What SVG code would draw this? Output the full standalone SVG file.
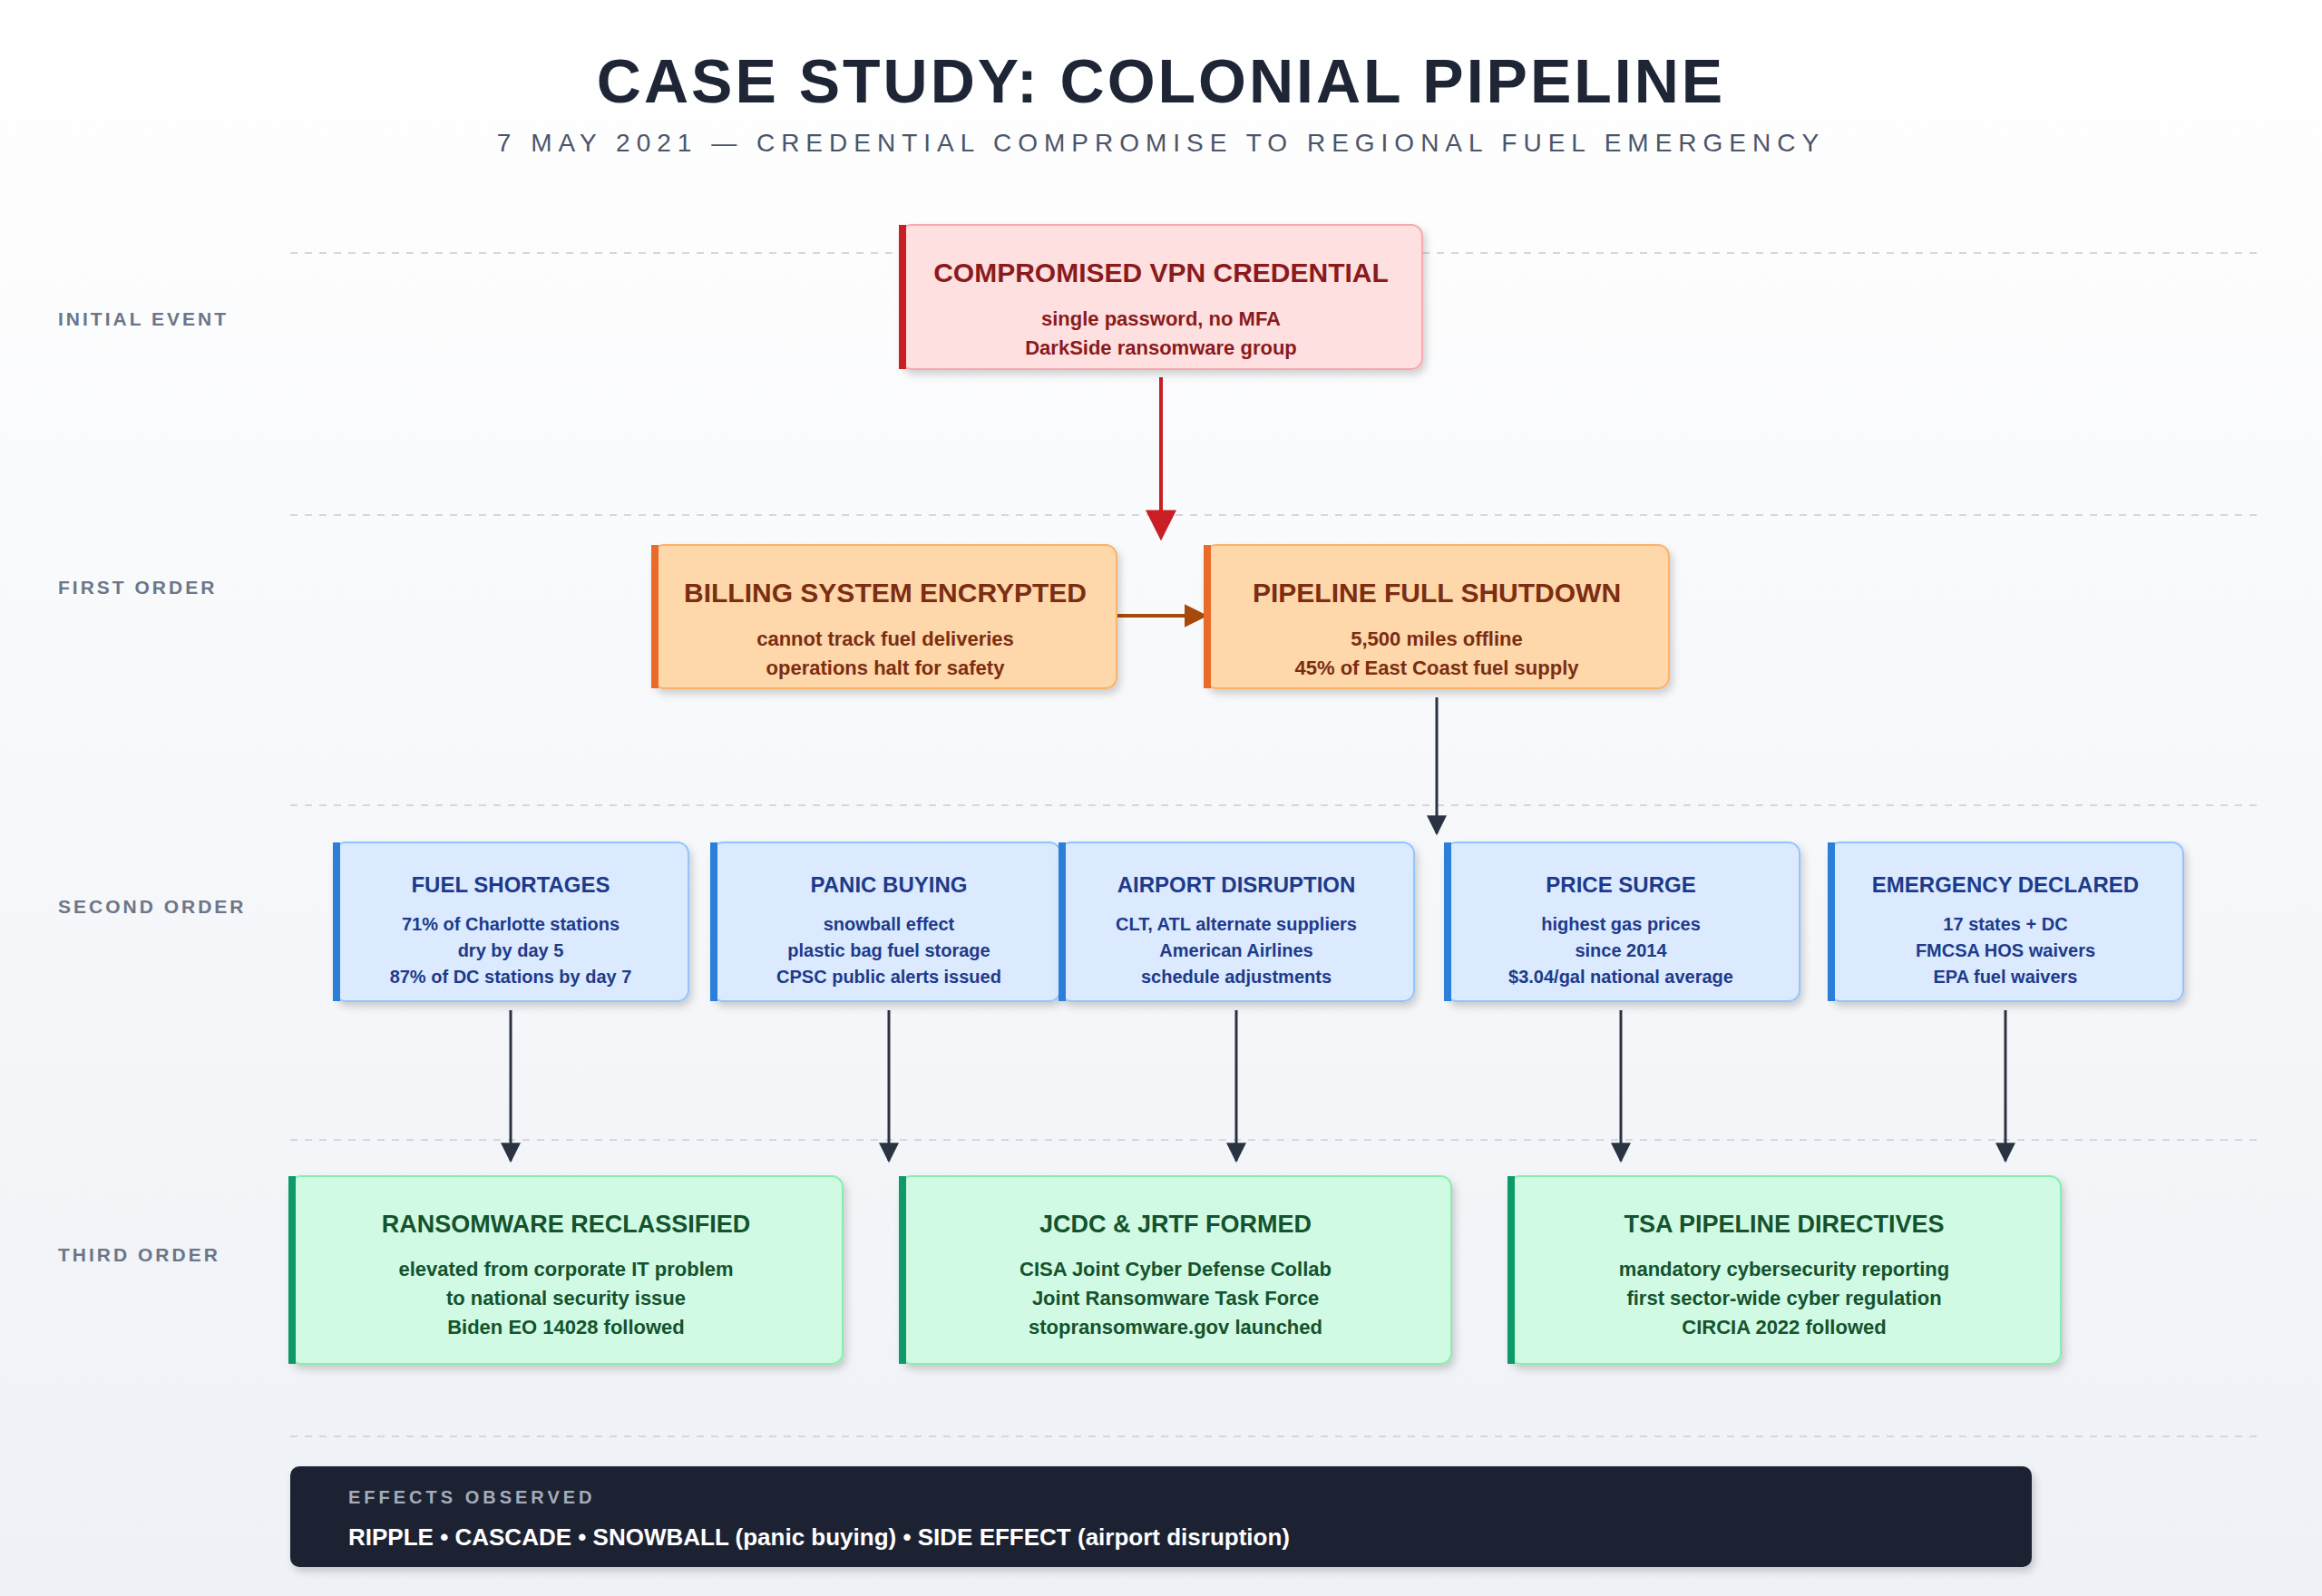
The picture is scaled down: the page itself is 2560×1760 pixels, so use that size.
<svg xmlns="http://www.w3.org/2000/svg" width="2560" height="1760" viewBox="0 0 2560 1760">
<defs>
<linearGradient id="bg" x1="0" y1="0" x2="0" y2="1"><stop offset="0" stop-color="#ffffff"/><stop offset="1" stop-color="#eef1f6"/></linearGradient>
<filter id="sh" x="-10%" y="-10%" width="120%" height="130%"><feDropShadow dx="3" dy="5" stdDeviation="4" flood-color="#000" flood-opacity="0.18"/></filter>
<marker id="mr" markerWidth="10" markerHeight="10" refX="9" refY="5" orient="auto" markerUnits="userSpaceOnUse" viewBox="0 0 10 10"><path d="M0,0 L10,5 L0,10 z" fill="#c81e24"/></marker>
<marker id="mo" viewBox="0 0 10 10" refX="9" refY="5" markerWidth="26" markerHeight="26" orient="auto" markerUnits="userSpaceOnUse"><path d="M0,0 L10,5 L0,10 z" fill="#a54a0a"/></marker>
<marker id="md" viewBox="0 0 10 10" refX="9" refY="5" markerWidth="22" markerHeight="22" orient="auto" markerUnits="userSpaceOnUse"><path d="M0,0 L10,5 L0,10 z" fill="#2a3342"/></marker>
<marker id="mr2" viewBox="0 0 10 10" refX="9" refY="5" markerWidth="34" markerHeight="34" orient="auto" markerUnits="userSpaceOnUse"><path d="M0,0 L10,5 L0,10 z" fill="#c81e24"/></marker>
</defs>
<style>
text{font-family:"Liberation Sans",Arial,sans-serif;text-anchor:middle;font-weight:bold}
.lane{fill:#6b7688;font-size:21px;letter-spacing:3px;text-anchor:start}
.dash{stroke:#d3d8e0;stroke-width:2;stroke-dasharray:8 8}
.r rect.b{fill:#fee0e1;stroke:#f8a9ad;stroke-width:2}
.r text{fill:#8b1a1c}
.o rect.b{fill:#fed7aa;stroke:#fbb26b;stroke-width:2}
.o text{fill:#7c2d12}
.bl rect.b{fill:#dbeafe;stroke:#93c5fd;stroke-width:2}
.bl text{fill:#1e3a8a}
.g rect.b{fill:#d1fae5;stroke:#86efac;stroke-width:2}
.g text{fill:#14532d}
.t1{font-size:30px}.s1{font-size:22px}.t2{font-size:24px}.s2{font-size:20px}
</style>
<rect width="2560" height="1760" fill="url(#bg)"/>
<text x="1280" y="113" style="font-size:68px;fill:#1e2535;letter-spacing:3px">CASE STUDY: COLONIAL PIPELINE</text>
<text x="1280" y="167" style="font-size:28px;fill:#4b5568;font-weight:normal;letter-spacing:7px">7 MAY 2021 — CREDENTIAL COMPROMISE TO REGIONAL FUEL EMERGENCY</text>
<g>
<line class="dash" x1="320" y1="279" x2="2495" y2="279"/>
<line class="dash" x1="320" y1="568" x2="2495" y2="568"/>
<line class="dash" x1="320" y1="888" x2="2495" y2="888"/>
<line class="dash" x1="320" y1="1257" x2="2495" y2="1257"/>
<line class="dash" x1="320" y1="1584" x2="2495" y2="1584"/>
</g>
<text class="lane" x="64" y="359">INITIAL EVENT</text>
<text class="lane" x="64" y="655">FIRST ORDER</text>
<text class="lane" x="64" y="1007">SECOND ORDER</text>
<text class="lane" x="64" y="1391">THIRD ORDER</text>

<g id="connectors" fill="none">
<line x1="1280" y1="416" x2="1280" y2="593" stroke="#c81e24" stroke-width="4" marker-end="url(#mr2)"/>
<line x1="1231" y1="679" x2="1329" y2="679" stroke="#a54a0a" stroke-width="4" marker-end="url(#mo)"/>
<line x1="1584" y1="769" x2="1584" y2="919" stroke="#2a3342" stroke-width="3" marker-end="url(#md)"/>
<line x1="563" y1="1114" x2="563" y2="1280" stroke="#2a3342" stroke-width="3" marker-end="url(#md)"/>
<line x1="980" y1="1114" x2="980" y2="1280" stroke="#2a3342" stroke-width="3" marker-end="url(#md)"/>
<line x1="1363" y1="1114" x2="1363" y2="1280" stroke="#2a3342" stroke-width="3" marker-end="url(#md)"/>
<line x1="1787" y1="1114" x2="1787" y2="1280" stroke="#2a3342" stroke-width="3" marker-end="url(#md)"/>
<line x1="2211" y1="1114" x2="2211" y2="1280" stroke="#2a3342" stroke-width="3" marker-end="url(#md)"/>
</g>

<g id="n-vpn" class="r"><rect class="b" x="993" y="248" width="575" height="159" rx="12" filter="url(#sh)"/><rect x="991" y="248" width="8" height="159" fill="#c81e24"/>
<text class="t1" x="1280" y="311">COMPROMISED VPN CREDENTIAL</text><text class="s1" x="1280" y="359">single password, no MFA</text><text class="s1" x="1280" y="391">DarkSide ransomware group</text></g>

<g id="n-billing" class="o"><rect class="b" x="720" y="601" width="511" height="158" rx="12" filter="url(#sh)"/><rect x="718" y="601" width="8" height="158" fill="#ea6a2a"/>
<text class="t1" x="976" y="664">BILLING SYSTEM ENCRYPTED</text><text class="s1" x="976" y="712">cannot track fuel deliveries</text><text class="s1" x="976" y="744">operations halt for safety</text></g>
<g id="n-pipeline" class="o"><rect class="b" x="1329" y="601" width="511" height="158" rx="12" filter="url(#sh)"/><rect x="1327" y="601" width="8" height="158" fill="#ea6a2a"/>
<text class="t1" x="1584" y="664">PIPELINE FULL SHUTDOWN</text><text class="s1" x="1584" y="712">5,500 miles offline</text><text class="s1" x="1584" y="744">45% of East Coast fuel supply</text></g>

<g id="n-fuel" class="bl"><rect class="b" x="369" y="929" width="390" height="175" rx="12" filter="url(#sh)"/><rect x="367" y="929" width="8" height="175" fill="#2b7fd9"/>
<text class="t2" x="563" y="984">FUEL SHORTAGES</text><text class="s2" x="563" y="1026">71% of Charlotte stations</text><text class="s2" x="563" y="1055">dry by day 5</text><text class="s2" x="563" y="1084">87% of DC stations by day 7</text></g>
<g id="n-panic" class="bl"><rect class="b" x="785" y="929" width="384" height="175" rx="12" filter="url(#sh)"/><rect x="783" y="929" width="8" height="175" fill="#2b7fd9"/>
<text class="t2" x="980" y="984">PANIC BUYING</text><text class="s2" x="980" y="1026">snowball effect</text><text class="s2" x="980" y="1055">plastic bag fuel storage</text><text class="s2" x="980" y="1084">CPSC public alerts issued</text></g>
<g id="n-airport" class="bl"><rect class="b" x="1169" y="929" width="390" height="175" rx="12" filter="url(#sh)"/><rect x="1167" y="929" width="8" height="175" fill="#2b7fd9"/>
<text class="t2" x="1363" y="984">AIRPORT DISRUPTION</text><text class="s2" x="1363" y="1026">CLT, ATL alternate suppliers</text><text class="s2" x="1363" y="1055">American Airlines</text><text class="s2" x="1363" y="1084">schedule adjustments</text></g>
<g id="n-price" class="bl"><rect class="b" x="1594" y="929" width="390" height="175" rx="12" filter="url(#sh)"/><rect x="1592" y="929" width="8" height="175" fill="#2b7fd9"/>
<text class="t2" x="1787" y="984">PRICE SURGE</text><text class="s2" x="1787" y="1026">highest gas prices</text><text class="s2" x="1787" y="1055">since 2014</text><text class="s2" x="1787" y="1084">$3.04/gal national average</text></g>
<g id="n-emergency" class="bl"><rect class="b" x="2017" y="929" width="390" height="175" rx="12" filter="url(#sh)"/><rect x="2015" y="929" width="8" height="175" fill="#2b7fd9"/>
<text class="t2" x="2211" y="984">EMERGENCY DECLARED</text><text class="s2" x="2211" y="1026">17 states + DC</text><text class="s2" x="2211" y="1055">FMCSA HOS waivers</text><text class="s2" x="2211" y="1084">EPA fuel waivers</text></g>

<g id="n-ransom" class="g"><rect class="b" x="320" y="1297" width="609" height="207" rx="12" filter="url(#sh)"/><rect x="318" y="1297" width="8" height="207" fill="#0d9a68"/>
<text class="t2" x="624" y="1359" style="font-size:27px">RANSOMWARE RECLASSIFIED</text><text class="s1" x="624" y="1407">elevated from corporate IT problem</text><text class="s1" x="624" y="1439">to national security issue</text><text class="s1" x="624" y="1471">Biden EO 14028 followed</text></g>
<g id="n-jcdc" class="g"><rect class="b" x="993" y="1297" width="607" height="207" rx="12" filter="url(#sh)"/><rect x="991" y="1297" width="8" height="207" fill="#0d9a68"/>
<text class="t2" x="1296" y="1359" style="font-size:27px">JCDC &amp; JRTF FORMED</text><text class="s1" x="1296" y="1407">CISA Joint Cyber Defense Collab</text><text class="s1" x="1296" y="1439">Joint Ransomware Task Force</text><text class="s1" x="1296" y="1471">stopransomware.gov launched</text></g>
<g id="n-tsa" class="g"><rect class="b" x="1664" y="1297" width="608" height="207" rx="12" filter="url(#sh)"/><rect x="1662" y="1297" width="8" height="207" fill="#0d9a68"/>
<text class="t2" x="1967" y="1359" style="font-size:27px">TSA PIPELINE DIRECTIVES</text><text class="s1" x="1967" y="1407">mandatory cybersecurity reporting</text><text class="s1" x="1967" y="1439">first sector-wide cyber regulation</text><text class="s1" x="1967" y="1471">CIRCIA 2022 followed</text></g>

<g id="footer"><rect x="320" y="1617" width="1920" height="111" rx="10" fill="#1e2233" filter="url(#sh)"/>
<text x="384" y="1658" style="text-anchor:start;font-size:20px;fill:#a3acbb;letter-spacing:4px">EFFECTS OBSERVED</text>
<text x="384" y="1704" style="text-anchor:start;font-size:26px;fill:#ffffff">RIPPLE • CASCADE • SNOWBALL (panic buying) • SIDE EFFECT (airport disruption)</text></g>
</svg>
